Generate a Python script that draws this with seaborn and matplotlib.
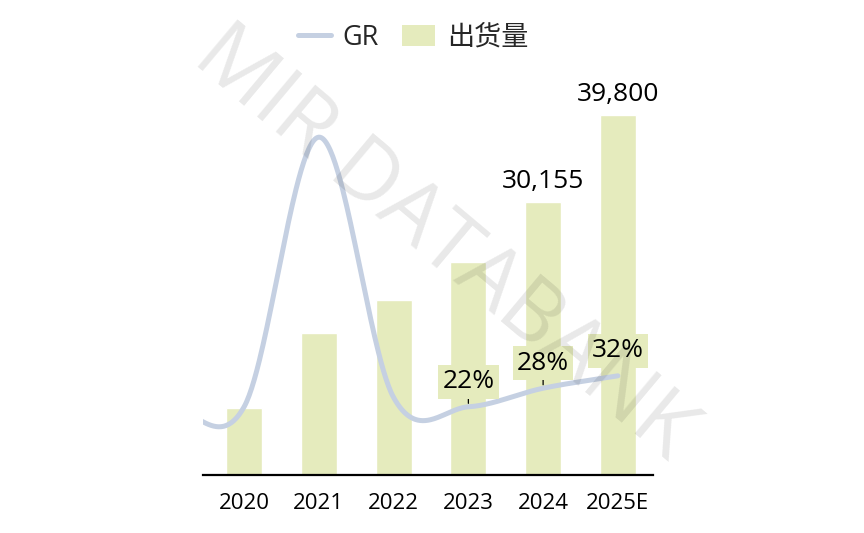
import numpy as np
import pandas as pd
import matplotlib
matplotlib.use("Agg")
import matplotlib.pyplot as plt
import seaborn as sns
from matplotlib.lines import Line2D
from matplotlib.patches import Patch

# ---- data ----
years = ["2020", "2021", "2022", "2023", "2024", "2025E"]
shipments = [7400, 15700, 19300, 23500, 30155, 39800]
# GR line (%); the line enters from the left edge, so one leading point before 2020
gr_lead = 22
growth = [22, 109, 25, 22, 28, 32]
shipment_labels = {"2024": "30,155", "2025E": "39,800"}
growth_labels = {"2023": "22%", "2024": "28%", "2025E": "32%"}

BAR_C = "#e5ebbd"
LINE_C = "#c5d0e2"

sns.set_theme(style="white")
plt.rcParams["font.family"] = ["Open Sans", "Noto Sans CJK SC", "DejaVu Sans"]

fig = plt.figure(figsize=(8.64, 5.33), dpi=100)
W, H = 864, 533
ax = fig.add_axes([203 / W, 1 - 475 / H, 450 / W, 415 / H])

df = pd.DataFrame({"year": years, "shipments": shipments})
sns.barplot(data=df, x="year", y="shipments", color=BAR_C, width=0.48,
            saturation=1, ax=ax, zorder=1)
ax.set_xlim(-0.55, 5.47)
ax.set_ylim(0, 45856)
ax.set_xlabel("")
ax.set_ylabel("")
ax.set_yticks([])
for s in ["top", "right", "left"]:
    ax.spines[s].set_visible(False)
ax.spines["bottom"].set_color("black")
ax.spines["bottom"].set_linewidth(1.6)
ax.tick_params(axis="x", length=0, pad=13, labelsize=16, colors="black")

for i, y in enumerate(years):
    if y in shipment_labels:
        ax.annotate(shipment_labels[y], (i, shipments[i]), xytext=(0, 8),
                    textcoords="offset pixels", ha="center", va="bottom",
                    fontsize=19, color="black")

# ---- smooth GR line (Catmull-Rom / cubic Hermite) ----
ax2 = ax.twinx()
ax2.set_xlim(ax.get_xlim())
ax2.set_ylim(0, 133.9)
ax2.set_yticks([])
for s in ax2.spines.values():
    s.set_visible(False)

gx = np.arange(-1, len(growth), dtype=float)
gy = np.array([gr_lead] + growth, dtype=float)
N = len(gy)
m = np.empty(N)
m[1:-1] = (gy[2:] - gy[:-2]) / 2
m[0] = gy[1] - gy[0]
m[-1] = gy[-1] - gy[-2]
t = np.linspace(0, 1, 60)
h00 = 2 * t**3 - 3 * t**2 + 1
h10 = t**3 - 2 * t**2 + t
h01 = -2 * t**3 + 3 * t**2
h11 = t**3 - t**2
cx, cy = [], []
for i in range(N - 1):
    cx.append(gx[i] + t)
    cy.append(h00 * gy[i] + h10 * m[i] + h01 * gy[i + 1] + h11 * m[i + 1])
cx = np.concatenate(cx)
cy = np.concatenate(cy)
ax2.plot(cx, cy, color=LINE_C, lw=3.6, solid_capstyle="round", zorder=3)

for i, y in enumerate(years):
    if y in growth_labels:
        last = i == len(years) - 1
        ax2.annotate(growth_labels[y], (i, growth[i]), xytext=(0, 25),
                     textcoords="offset pixels", ha="center", va="center",
                     fontsize=19, color="black",
                     bbox=dict(boxstyle="square,pad=0.16", fc=BAR_C, ec="none"),
                     arrowprops=None if last else dict(arrowstyle="-", color="black",
                                                        lw=0.9, shrinkA=0, shrinkB=2.5),
                     zorder=4)

# ---- watermark ----
fig.text(443 / W, 1 - 245 / H, "MIR DATABANK", rotation=-40, fontsize=62,
         color="black", alpha=0.09, ha="center", va="center",
         family=["Open Sans", "DejaVu Sans"], zorder=10)

# ---- legend ----
handles = [Line2D([], [], color=LINE_C, lw=3.6, solid_capstyle="round"),
           Patch(facecolor=BAR_C, edgecolor="none")]
fig.legend(handles, ["GR", "出货量"], loc="center", ncol=2,
           bbox_to_anchor=(413 / W, 1 - 38 / H), frameon=False, fontsize=19.5,
           handlelength=1.22, handleheight=0.85, handletextpad=0.44,
           columnspacing=0.85)

fig.savefig("out.png", dpi=100)
